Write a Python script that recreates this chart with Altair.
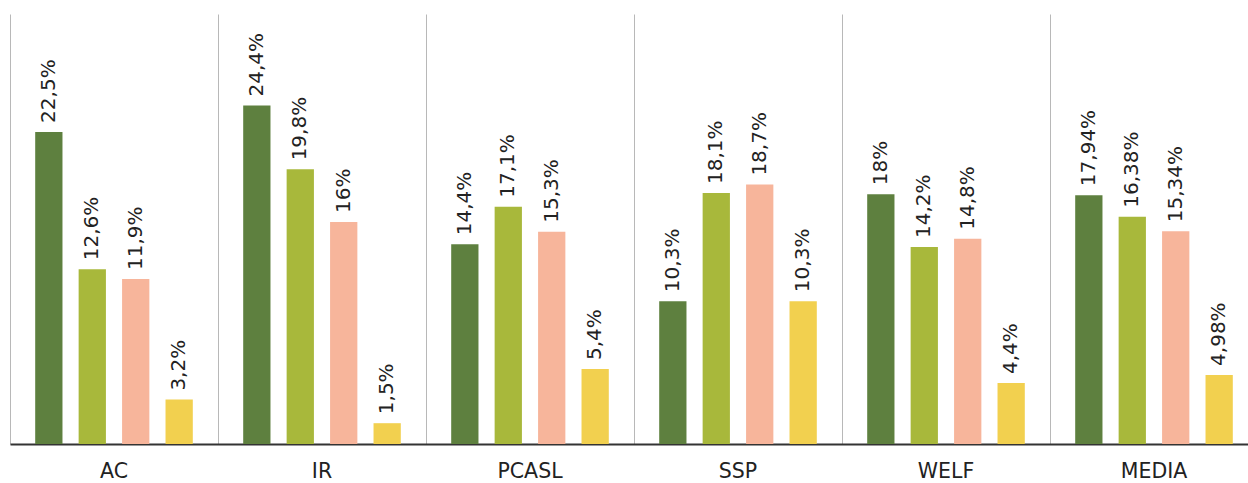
import altair as alt
import pandas as pd

categories = ["AC", "IR", "PCASL", "SSP", "WELF", "MEDIA"]
series = ["S1", "S2", "S3", "S4"]
colors = ["#5e803f", "#a8b83b", "#f7b59b", "#f2d04f"]
values = {
    "S1": [22.5, 24.4, 14.4, 10.3, 18.0, 17.94],
    "S2": [12.6, 19.8, 17.1, 18.1, 14.2, 16.38],
    "S3": [11.9, 16.0, 15.3, 18.7, 14.8, 15.34],
    "S4": [3.2, 1.5, 5.4, 10.3, 4.4, 4.98],
}

rows = []
for s in series:
    for c, v in zip(categories, values[s]):
        rows.append({"cat": c, "series": s, "value": v,
                     "label": f"{v:g}".replace(".", ",") + "%"})
df = pd.DataFrame(rows)

FONT = "DejaVu Sans"

x = alt.X("cat:N", sort=categories, title=None,
          scale=alt.Scale(paddingInner=0, paddingOuter=0, range=[0, 1248]),
          axis=alt.Axis(grid=True, bandPosition=0, gridColor="#b8b8b8", gridWidth=1,
                        ticks=False, domainColor="#333333", domainWidth=2,
                        labelAngle=0, labelFontSize=20.5, labelFont=FONT,
                        labelColor="#222222", labelPadding=17))
xo = alt.XOffset("series:N", sort=series,
                 scale=alt.Scale(paddingInner=0.372, paddingOuter=0.58))
y = alt.Y("value:Q", axis=None, scale=alt.Scale(domain=[0, 31], nice=False))

base = alt.Chart(df)
bars = base.mark_bar().encode(
    x=x, xOffset=xo, y=y,
    color=alt.Color("series:N", sort=series,
                    scale=alt.Scale(domain=series, range=colors), legend=None),
)
texts = base.mark_text(angle=270, align="left", baseline="middle", dx=9,
                       fontSize=20, font=FONT, color="#222222").encode(
    x=x, xOffset=xo, y=y, text="label:N"
)

chart = (bars + texts).properties(
    width=1238, height=430,
    padding={"left": 10, "top": 14, "right": 0, "bottom": 39},
    autosize=alt.AutoSizeParams(type="none"),
).configure(background="white").configure_view(strokeWidth=0, stroke="transparent")

chart.save("out.html", embed_options={"renderer": "svg", "actions": False})
